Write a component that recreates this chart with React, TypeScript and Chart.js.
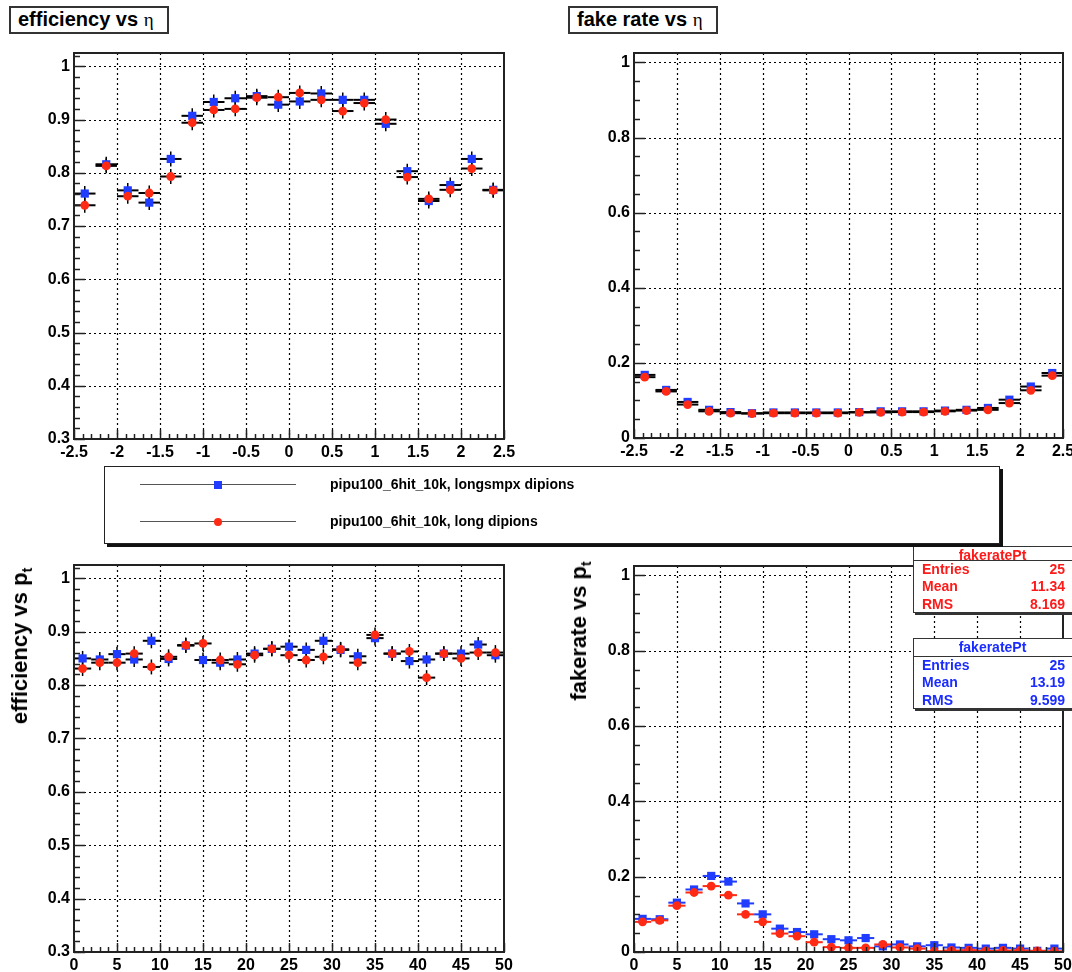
import React, { useEffect, useRef } from "react";
import { Chart, registerables } from "chart.js";
Chart.register(...registerables);

// ---------- data ----------
const etaCenters = [-2.375, -2.125, -1.875, -1.625, -1.375, -1.125, -0.875, -0.625, -0.375, -0.125, 0.125, 0.375, 0.625, 0.875, 1.125, 1.375, 1.625, 1.875, 2.125, 2.375];
const effEtaBlue = [0.761, 0.816, 0.767, 0.744, 0.826, 0.907, 0.933, 0.94, 0.944, 0.928, 0.934, 0.949, 0.937, 0.937, 0.892, 0.803, 0.747, 0.777, 0.826, 0.768];
const effEtaRed = [0.739, 0.813, 0.756, 0.762, 0.793, 0.894, 0.918, 0.92, 0.941, 0.942, 0.95, 0.937, 0.916, 0.931, 0.9, 0.792, 0.751, 0.768, 0.808, 0.767];
const fakeEtaBlue = [0.168, 0.128, 0.096, 0.075, 0.069, 0.066, 0.068, 0.068, 0.068, 0.068, 0.069, 0.071, 0.071, 0.071, 0.073, 0.075, 0.08, 0.102, 0.137, 0.173];
const fakeEtaRed = [0.162, 0.124, 0.089, 0.071, 0.066, 0.065, 0.066, 0.066, 0.066, 0.066, 0.068, 0.068, 0.069, 0.069, 0.071, 0.073, 0.075, 0.093, 0.127, 0.166];

const ptCenters = [1, 3, 5, 7, 9, 11, 13, 15, 17, 19, 21, 23, 25, 27, 29, 31, 33, 35, 37, 39, 41, 43, 45, 47, 49];
const effPtBlue = [0.85, 0.848, 0.858, 0.848, 0.883, 0.849, 0.874, 0.847, 0.842, 0.848, 0.859, 0.868, 0.872, 0.866, 0.883, 0.866, 0.854, 0.888, 0.859, 0.845, 0.848, 0.859, 0.859, 0.876, 0.856];
const effPtRed = [0.831, 0.842, 0.842, 0.859, 0.834, 0.853, 0.875, 0.878, 0.847, 0.839, 0.856, 0.868, 0.856, 0.847, 0.853, 0.867, 0.842, 0.894, 0.859, 0.863, 0.814, 0.859, 0.85, 0.861, 0.861];
const fakePtBlue = [0.088, 0.087, 0.131, 0.166, 0.202, 0.187, 0.129, 0.1, 0.062, 0.053, 0.047, 0.034, 0.031, 0.037, 0.015, 0.02, 0.015, 0.018, 0.012, 0.011, 0.009, 0.011, 0.009, 0.003, 0.009];
const fakePtRed = [0.08, 0.084, 0.123, 0.158, 0.175, 0.151, 0.1, 0.08, 0.049, 0.042, 0.026, 0.013, 0.011, 0.011, 0.02, 0.012, 0.009, 0.002, 0.004, 0.005, 0.003, 0.004, 0.004, 0.003, 0.002];

const etaTicks = [-2.5, -2, -1.5, -1, -0.5, 0, 0.5, 1, 1.5, 2, 2.5];
const ptTicks = [0, 5, 10, 15, 20, 25, 30, 35, 40, 45, 50];
const effTicks = [0.3, 0.4, 0.5, 0.6, 0.7, 0.8, 0.9, 1];
const fakeTicks = [0, 0.2, 0.4, 0.6, 0.8, 1];

const ETA_HALF_BIN = 0.125;
const PT_HALF_BIN = 1;
const EFF_ERR = 0.014;
const FAKE_ERR = 0.004;

const legendLabels = ["pipu100_6hit_10k, longsmpx dipions", "pipu100_6hit_10k, long dipions"];
const statRed = { name: "fakeratePt", entries: "25", mean: "11.34", rms: "8.169" };
const statBlue = { name: "fakeratePt", entries: "25", mean: "13.19", rms: "9.599" };

// ---------- style ----------
const FONT = '"Liberation Sans", Arial, Helvetica, sans-serif';
const BLUE = "#1f3cff";
const RED = "#ff2a14";

type Spec = {
  xs: number[];
  blue: number[];
  red: number[];
  xMin: number; xMax: number; yMin: number; yMax: number;
  xTicks: number[]; yTicks: number[];
  xMinor: number; yMinor: number;
  halfBin: number; err: number; coloredErr: boolean;
  cx: number; cy: number; cw: number; ch: number;
  L: number; T: number; R: number; B: number;
};

const specs: Spec[] = [
  { xs: etaCenters, blue: effEtaBlue, red: effEtaRed, xMin: -2.5, xMax: 2.5, yMin: 0.3, yMax: 1.025, xTicks: etaTicks, yTicks: effTicks, xMinor: 0.1, yMinor: 0.02, halfBin: ETA_HALF_BIN, err: EFF_ERR, coloredErr: false, cx: 0, cy: 40, cw: 540, ch: 430, L: 74, T: 53, R: 504, B: 439 },
  { xs: etaCenters, blue: fakeEtaBlue, red: fakeEtaRed, xMin: -2.5, xMax: 2.5, yMin: 0, yMax: 1.025, xTicks: etaTicks, yTicks: fakeTicks, xMinor: 0.1, yMinor: 0.05, halfBin: ETA_HALF_BIN, err: FAKE_ERR, coloredErr: false, cx: 540, cy: 40, cw: 532, ch: 430, L: 634, T: 53, R: 1063, B: 438 },
  { xs: ptCenters, blue: effPtBlue, red: effPtRed, xMin: 0, xMax: 50, yMin: 0.3, yMax: 1.025, xTicks: ptTicks, yTicks: effTicks, xMinor: 1, yMinor: 0.02, halfBin: PT_HALF_BIN, err: EFF_ERR, coloredErr: false, cx: 0, cy: 550, cw: 540, ch: 422, L: 74, T: 565, R: 504, B: 952 },
  { xs: ptCenters, blue: fakePtBlue, red: fakePtRed, xMin: 0, xMax: 50, yMin: 0, yMax: 1.025, xTicks: ptTicks, yTicks: fakeTicks, xMinor: 1, yMinor: 0.05, halfBin: PT_HALF_BIN, err: FAKE_ERR, coloredErr: true, cx: 540, cy: 550, cw: 532, ch: 422, L: 634, T: 566, R: 1063, B: 952 },
];

function makePlugin(s: Spec) {
  return {
    id: "rootStyle",
    beforeDatasetsDraw(chart: any) {
      const { ctx, chartArea: a } = chart;
      const x = chart.scales.x;
      const y = chart.scales.y;
      ctx.save();
      // dotted grid
      ctx.strokeStyle = "#000";
      ctx.lineWidth = 1.2;
      ctx.setLineDash([2, 3]);
      for (const v of s.xTicks) {
        if (v <= s.xMin || v >= s.xMax) continue;
        const px = Math.round(x.getPixelForValue(v)) + 0.5;
        ctx.beginPath(); ctx.moveTo(px, a.top); ctx.lineTo(px, a.bottom); ctx.stroke();
      }
      for (const v of s.yTicks) {
        if (v <= s.yMin || v >= s.yMax) continue;
        const py = Math.round(y.getPixelForValue(v)) + 0.5;
        ctx.beginPath(); ctx.moveTo(a.left, py); ctx.lineTo(a.right, py); ctx.stroke();
      }
      ctx.setLineDash([]);
      // error bars
      const series = [
        { vals: s.blue, color: BLUE },
        { vals: s.red, color: RED },
      ];
      for (const ser of series) {
        ctx.strokeStyle = s.coloredErr ? ser.color : "#000";
        ser.vals.forEach((v, i) => {
          const c = s.xs[i];
          const py = y.getPixelForValue(v);
          ctx.lineWidth = 2;
          ctx.beginPath();
          ctx.moveTo(x.getPixelForValue(c - s.halfBin), py);
          ctx.lineTo(x.getPixelForValue(c + s.halfBin), py);
          ctx.stroke();
          const px = x.getPixelForValue(c);
          ctx.lineWidth = 1.5;
          ctx.beginPath();
          ctx.moveTo(px, y.getPixelForValue(Math.max(s.yMin, v - s.err)));
          ctx.lineTo(px, y.getPixelForValue(v + s.err));
          ctx.stroke();
        });
      }
      ctx.restore();
    },
    afterDraw(chart: any) {
      const { ctx, chartArea: a } = chart;
      const x = chart.scales.x;
      const y = chart.scales.y;
      ctx.save();
      ctx.strokeStyle = "#222";
      ctx.lineWidth = 1.5;
      // y ticks
      const ny = Math.round((s.yMax - s.yMin) / s.yMinor);
      for (let i = 0; i <= ny; i++) {
        const v = s.yMin + i * s.yMinor;
        if (v > s.yMax + 1e-9) break;
        const isMajor = s.yTicks.some((t) => Math.abs(t - v) < 1e-6);
        const py = Math.round(y.getPixelForValue(v)) + 0.5;
        ctx.beginPath(); ctx.moveTo(a.left, py); ctx.lineTo(a.left + (isMajor ? 11 : 6), py); ctx.stroke();
      }
      const nx = Math.round((s.xMax - s.xMin) / s.xMinor);
      for (let i = 0; i <= nx; i++) {
        const v = s.xMin + i * s.xMinor;
        const isMajor = s.xTicks.some((t) => Math.abs(t - v) < 1e-6);
        const px = Math.round(x.getPixelForValue(v)) + 0.5;
        ctx.beginPath(); ctx.moveTo(px, a.bottom); ctx.lineTo(px, a.bottom - (isMajor ? 9 : 5)); ctx.stroke();
      }
      // frame
      ctx.strokeStyle = "#222";
      ctx.lineWidth = 2;
      ctx.strokeRect(a.left, a.top, a.right - a.left, a.bottom - a.top);
      ctx.restore();
    },
  };
}

function makeConfig(s: Spec): any {
  const tickFont = { family: FONT, size: 16, weight: "bold" as const };
  return {
    type: "scatter",
    data: {
      datasets: [
        {
          label: legendLabels[1],
          data: s.xs.map((c, i) => ({ x: c, y: s.red[i] })),
          pointStyle: "circle",
          pointRadius: 4.4,
          pointHoverRadius: 4.4,
          backgroundColor: RED,
          borderWidth: 0,
          showLine: false,
        },
        {
          label: legendLabels[0],
          data: s.xs.map((c, i) => ({ x: c, y: s.blue[i] })),
          pointStyle: "rect",
          pointRadius: 5.8,
          pointHoverRadius: 5.8,
          backgroundColor: BLUE,
          borderWidth: 0,
          showLine: false,
        },
      ],
    },
    options: {
      animation: false,
      responsive: false,
      devicePixelRatio: 1,
      events: [],
      layout: { padding: { left: 0, top: s.T - s.cy, right: s.cx + s.cw - s.R, bottom: 0 } },
      plugins: { legend: { display: false }, tooltip: { enabled: false }, title: { display: false } },
      scales: {
        x: {
          type: "linear",
          min: s.xMin,
          max: s.xMax,
          grid: { display: false, drawTicks: false },
          border: { display: false },
          ticks: { font: tickFont, color: "#000", padding: 4, autoSkip: false, maxRotation: 0, minRotation: 0, callback: (v: any) => String(v) },
          afterBuildTicks: (sc: any) => { sc.ticks = s.xTicks.map((v) => ({ value: v })); },
          afterFit: (sc: any) => { sc.height = s.cy + s.ch - s.B; sc.paddingLeft = 0; sc.paddingRight = 0; },
        },
        y: {
          type: "linear",
          min: s.yMin,
          max: s.yMax,
          grid: { display: false, drawTicks: false },
          border: { display: false },
          ticks: { font: tickFont, color: "#000", padding: 4, autoSkip: false, callback: (v: any) => String(v) },
          afterBuildTicks: (sc: any) => { sc.ticks = s.yTicks.map((v) => ({ value: v })); },
          afterFit: (sc: any) => { sc.width = s.L - s.cx; sc.paddingTop = 0; sc.paddingBottom = 0; },
        },
      },
    },
    plugins: [makePlugin(s)],
  };
}

const abs = (o: any): React.CSSProperties => ({ position: "absolute", ...o });

function StatBox({ top, color, st, lineY }: { top: number; color: string; st: typeof statRed; lineY: number }) {
  const rowStyle = (y: number): React.CSSProperties => abs({ left: 922, width: 143, top: y - 9, height: 18, lineHeight: "18px", display: "flex", justifyContent: "space-between" });
  return (
    <>
      <div style={abs({ left: 913, top, width: 170, height: lineY + 53 - top, border: "1.5px solid #333", boxShadow: "2px 2px 0 #333", background: "#fff", boxSizing: "border-box", zIndex: 5 })} />
      <div style={abs({ left: 913, top: lineY, width: 170, height: 0, borderTop: "1px solid #333", zIndex: 6 })} />
      <div style={{ ...abs({ left: 913, width: 159, top: top + 1, height: 14, lineHeight: "14px", textAlign: "center", zIndex: 6 }), color, font: `bold 14px ${FONT}` }}>{st.name}</div>
      {[["Entries", st.entries, 10], ["Mean", st.mean, 27], ["RMS", st.rms, 45]].map(([k, v, dy]) => (
        <div key={k as string} style={{ ...rowStyle(lineY + (dy as number)), color, font: `bold 14px ${FONT}`, zIndex: 6 }}>
          <span>{k}</span><span>{v}</span>
        </div>
      ))}
    </>
  );
}

export default function App() {
  const refs = [useRef<HTMLCanvasElement>(null), useRef<HTMLCanvasElement>(null), useRef<HTMLCanvasElement>(null), useRef<HTMLCanvasElement>(null)];
  useEffect(() => {
    const charts = specs.map((s, i) => new Chart(refs[i].current as HTMLCanvasElement, makeConfig(s)));
    return () => charts.forEach((c) => c.destroy());
  }, []);

  const titleFont = `bold 20px ${FONT}`;
  const axisTitleFont = `bold 22px ${FONT}`;
  const eta = <span style={{ fontFamily: '"Liberation Serif", "DejaVu Serif", serif', fontWeight: "normal", fontSize: 19 }}>η</span>;
  const sub = <span style={{ fontSize: 14, position: "relative", top: 5 }}>t</span>;

  return (
    <div style={abs({ left: 0, top: 0, width: 1072, height: 972, overflow: "hidden", background: "#fff", fontFamily: FONT })}>
      {specs.map((s, i) => (
        <canvas key={i} ref={refs[i]} width={s.cw} height={s.ch} style={abs({ left: s.cx, top: s.cy, width: s.cw, height: s.ch })} />
      ))}

      {/* pad titles */}
      <div style={{ ...abs({ left: 9, top: 6, width: 160, height: 28, border: "2px solid #333", boxSizing: "border-box", paddingLeft: 7, lineHeight: "24px", background: "#fff", whiteSpace: "nowrap" }), font: titleFont }}>
        efficiency vs {eta}
      </div>
      <div style={{ ...abs({ left: 568, top: 6, width: 150, height: 28, border: "2px solid #333", boxSizing: "border-box", paddingLeft: 7, lineHeight: "24px", background: "#fff", whiteSpace: "nowrap" }), font: titleFont }}>
        fake rate vs {eta}
      </div>

      {/* y axis titles */}
      <div style={{ ...abs({ left: 20, top: 646, transform: "translate(-50%, -50%) rotate(-90deg)", whiteSpace: "nowrap" }), font: axisTitleFont }}>
        efficiency vs p{sub}
      </div>
      <div style={{ ...abs({ left: 579, top: 631, transform: "translate(-50%, -50%) rotate(-90deg)", whiteSpace: "nowrap" }), font: axisTitleFont }}>
        fakerate vs p{sub}
      </div>

      {/* stat boxes */}
      <StatBox top={546} lineY={560} color="#ff1a1a" st={statRed} />
      <StatBox top={638} lineY={656} color="#1a2cff" st={statBlue} />

      {/* legend */}
      <div style={abs({ left: 104, top: 466, width: 896, height: 78, border: "1.5px solid #222", boxShadow: "3px 3px 0 #111", background: "#fff", boxSizing: "border-box", zIndex: 10 })} />
      {[{ y: 485, color: BLUE, round: false, label: legendLabels[0] }, { y: 522, color: RED, round: true, label: legendLabels[1] }].map((r) => (
        <React.Fragment key={r.label}>
          <div style={abs({ left: 140, top: r.y - 1, width: 156, height: 0, borderTop: "1.5px solid #555", zIndex: 11 })} />
          <div style={abs({ left: 214, top: r.y - 4, width: 8, height: 8, background: r.color, borderRadius: r.round ? "50%" : 0, zIndex: 12 })} />
          <div style={{ ...abs({ left: 330, top: r.y - 9, height: 18, lineHeight: "18px", whiteSpace: "nowrap", zIndex: 12 }), font: `bold 14px ${FONT}` }}>{r.label}</div>
        </React.Fragment>
      ))}
    </div>
  );
}
